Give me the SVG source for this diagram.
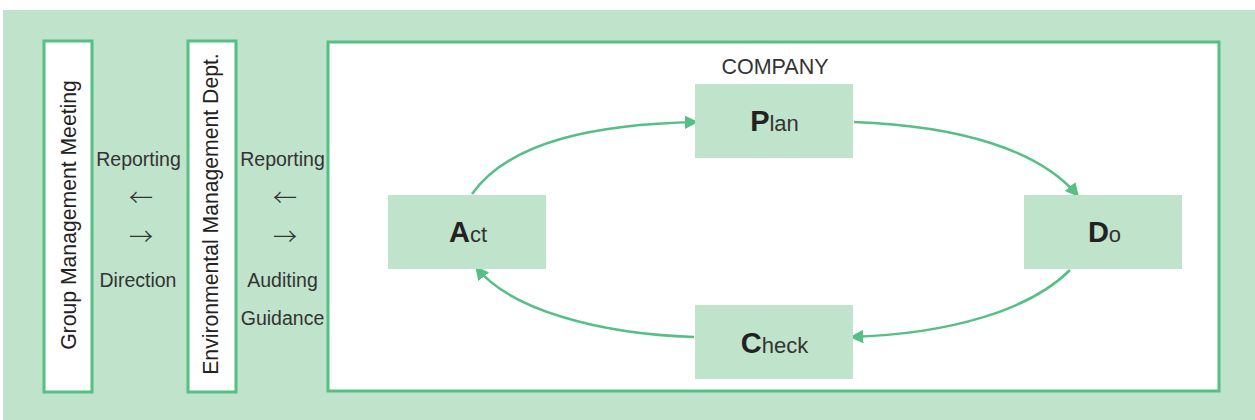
<svg xmlns="http://www.w3.org/2000/svg" width="1255" height="420" viewBox="0 0 1255 420">
<style>
.frame{fill:#fff;stroke:#55c084;stroke-width:3}
.node{fill:#c0e3cb}
.t{font-family:"Liberation Sans",Arial,sans-serif;fill:#333;font-size:19.5px}
.ar{font-family:"Noto Sans CJK JP","Noto Sans CJK SC",sans-serif;fill:#333;font-size:24px;font-weight:300}
.v{font-family:"Liberation Sans",Arial,sans-serif;fill:#222;font-size:21.2px}
.big{font-family:"Liberation Sans",Arial,sans-serif;fill:#222;font-weight:bold;font-size:29px}
.sm{font-family:"Liberation Sans",Arial,sans-serif;fill:#333;font-size:22px;font-weight:normal}
.conn{fill:none;stroke:#55c084;stroke-width:2.5}
</style>
<defs>
<marker id="ah" viewBox="0 0 10 10" refX="9" refY="5" markerWidth="5.5" markerHeight="5.5" orient="auto" markerUnits="strokeWidth">
<path d="M0,0 L10,5 L0,10 z" fill="#55c084"/>
</marker>
</defs>
<rect x="3" y="10" width="1252" height="410" fill="#c0e3cb"/>
<g id="group-meeting">
<rect class="frame" x="44" y="41" width="48" height="351"/>
<text class="v" transform="translate(76,215) rotate(-90)" text-anchor="middle">Group Management Meeting</text>
</g>
<g id="env-dept">
<rect class="frame" x="188" y="41" width="48" height="351"/>
<text class="v" transform="translate(218,214) rotate(-90)" text-anchor="middle">Environmental Management Dept.</text>
</g>
<g id="labels-1">
<text class="t" x="138.5" y="166" text-anchor="middle">Reporting</text>
<text class="ar" x="141" y="206" text-anchor="middle">←</text>
<text class="ar" x="141" y="245" text-anchor="middle">→</text>
<text class="t" x="138" y="287" text-anchor="middle">Direction</text>
</g>
<g id="labels-2">
<text class="t" x="282.5" y="166" text-anchor="middle">Reporting</text>
<text class="ar" x="285" y="206" text-anchor="middle">←</text>
<text class="ar" x="285" y="245" text-anchor="middle">→</text>
<text class="t" x="282.5" y="287" text-anchor="middle">Auditing</text>
<text class="t" x="282.5" y="325" text-anchor="middle">Guidance</text>
</g>
<g id="company">
<rect class="frame" x="328" y="42" width="891" height="349"/>
<text class="t" x="775" y="74" text-anchor="middle" style="font-size:21.5px">COMPANY</text>
</g>
<g id="connectors">
<path class="conn" d="M472,194 C510,140 600,124 697,122" marker-end="url(#ah)"/>
<path class="conn" d="M854,122 C960,126 1040,150 1078,196" marker-end="url(#ah)"/>
<path class="conn" d="M1070,270 C1030,310 950,334 851,337" marker-end="url(#ah)"/>
<path class="conn" d="M694,337 C600,334 510,310 476,267" marker-end="url(#ah)"/>
</g>
<g id="plan">
<rect class="node" x="695" y="84" width="158" height="74"/>
<text x="774.5" y="131" text-anchor="middle"><tspan class="big">P</tspan><tspan class="sm">lan</tspan></text>
</g>
<g id="act">
<rect class="node" x="388" y="195" width="158" height="74"/>
<text x="468" y="242" text-anchor="middle"><tspan class="big">A</tspan><tspan class="sm">ct</tspan></text>
</g>
<g id="do">
<rect class="node" x="1024" y="195" width="158" height="74"/>
<text x="1104.5" y="242" text-anchor="middle"><tspan class="big">D</tspan><tspan class="sm">o</tspan></text>
</g>
<g id="check">
<rect class="node" x="695" y="305" width="158" height="74"/>
<text x="774.5" y="353" text-anchor="middle"><tspan class="big">C</tspan><tspan class="sm">heck</tspan></text>
</g>
</svg>
